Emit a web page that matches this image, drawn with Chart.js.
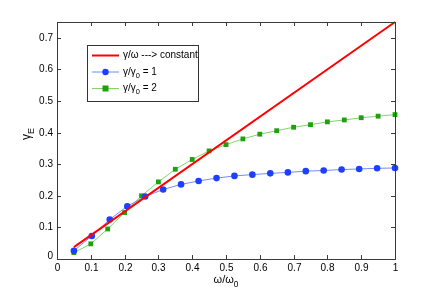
<!DOCTYPE html>
<html>
<head>
<meta charset="utf-8">
<script src="https://cdn.jsdelivr.net/npm/chart.js@4.4.0/dist/chart.umd.min.js"></script>
<style>
  html, body { margin: 0; padding: 0; background: #fff; }
  #wrap { width: 436px; height: 293px; }
</style>
</head>
<body>
<div id="wrap"><canvas id="gammaChart" width="436" height="293"></canvas></div>
<script>
// x positions (omega/omega0)
const xRed = [0.05, 1.0];
const yRed = [0.0375, 0.75];

const xBlue = [0.050, 0.103, 0.156, 0.208, 0.261, 0.314, 0.367, 0.419, 0.472, 0.525,
               0.578, 0.631, 0.683, 0.736, 0.789, 0.842, 0.894, 0.947, 1.000];
const yBlue = [0.026, 0.073, 0.125, 0.167, 0.198, 0.220, 0.236, 0.247, 0.256, 0.263,
               0.267, 0.271, 0.274, 0.278, 0.280, 0.283, 0.285, 0.287, 0.288];

const xGreen = [0.05, 0.10, 0.15, 0.20, 0.25, 0.30, 0.35, 0.40, 0.45, 0.50,
                0.55, 0.60, 0.65, 0.70, 0.75, 0.80, 0.85, 0.90, 0.95, 1.00];
const yGreen = [0.020, 0.048, 0.095, 0.147, 0.200, 0.244, 0.284, 0.315, 0.342, 0.362,
                0.380, 0.395, 0.406, 0.417, 0.425, 0.434, 0.440, 0.447, 0.452, 0.457];

const xTicks = [0, 0.1, 0.2, 0.3, 0.4, 0.5, 0.6, 0.7, 0.8, 0.9, 1];
const yTicks = [0, 0.1, 0.2, 0.3, 0.4, 0.5, 0.6, 0.7];

const FONT = "Liberation Sans, Arial, sans-serif";
const AXIS = "#3a3a3a";

function pts(xs, ys) {
    return xs.map((x, i) => ({ x: x, y: ys[i] }));
}

// draw text with a subscript part: parts = [[text, isSub], ...]
function drawRich(ctx, parts, x, y, size) {
    let cx = x;
    parts.forEach(p => {
        const s = p[1] ? size * 0.75 : size;
        ctx.font = s + "px " + FONT;
        ctx.fillText(p[0], cx, p[1] ? y + size * 0.35 : y);
        cx += ctx.measureText(p[0]).width;
    });
    return cx - x;
}
function richWidth(ctx, parts, size) {
    let w = 0;
    parts.forEach(p => {
        ctx.font = (p[1] ? size * 0.75 : size) + "px " + FONT;
        w += ctx.measureText(p[0]).width;
    });
    return w;
}

// MATLAB-like box, inward ticks, labels, titles and legend
const matlabAxes = {
    id: "matlabAxes",
    afterDraw(chart) {
        const ctx = chart.ctx;
        const a = chart.chartArea;
        const xs = chart.scales.x, ys = chart.scales.y;
        ctx.save();
        ctx.strokeStyle = AXIS;
        ctx.lineWidth = 1;
        ctx.strokeRect(Math.round(a.left) + 0.5, Math.round(a.top) + 0.5,
                       Math.round(a.right - a.left), Math.round(a.bottom - a.top));
        ctx.fillStyle = "#000";
        ctx.font = "10px " + FONT;
        // x ticks
        ctx.textAlign = "center";
        ctx.textBaseline = "top";
        xTicks.forEach(v => {
            const px = Math.round(xs.getPixelForValue(v)) + 0.5;
            ctx.beginPath();
            ctx.moveTo(px, a.bottom); ctx.lineTo(px, a.bottom - 4);
            ctx.moveTo(px, a.top); ctx.lineTo(px, a.top + 4);
            ctx.stroke();
            ctx.fillText(String(v), px, a.bottom + 4);
        });
        // y ticks
        ctx.textAlign = "right";
        ctx.textBaseline = "middle";
        yTicks.forEach(v => {
            const py = Math.round(ys.getPixelForValue(v)) + 0.5;
            ctx.beginPath();
            ctx.moveTo(a.left, py); ctx.lineTo(a.left + 4, py);
            ctx.moveTo(a.right, py); ctx.lineTo(a.right - 4, py);
            ctx.stroke();
            ctx.fillText(String(v), a.left - 4, v === 0 ? py - 3 : py);
        });

        // x title
        ctx.textAlign = "left";
        ctx.textBaseline = "alphabetic";
        const xt = [["ω/ω", false], ["0", true]];
        const xw = richWidth(ctx, xt, 11);
        drawRich(ctx, xt, (a.left + a.right) / 2 - xw / 2, 283, 11);

        // y title (rotated)
        ctx.save();
        ctx.translate(30, 134);
        ctx.rotate(-Math.PI / 2);
        const yt = [["γ", false], ["E", true]];
        const yw = richWidth(ctx, yt, 12);
        drawRich(ctx, yt, -yw / 2, 0, 12);
        ctx.restore();

        // legend
        const lx = 87, ly = 45, lw = 111, lh = 56;
        ctx.fillStyle = "#fff";
        ctx.fillRect(lx, ly, lw, lh);
        ctx.strokeStyle = "#333";
        ctx.strokeRect(lx + 0.5, ly + 0.5, lw, lh);
        const items = [
            { color: "#ff0000", width: 2, marker: null, text: [["γ/ω ---> constant", false]] },
            { color: "#6f8cff", width: 1, marker: "circle", mcolor: "#1f3fff", text: [["γ/γ", false], ["0", true], [" = 1", false]] },
            { color: "#7fd46a", width: 1, marker: "rect", mcolor: "#1fa00f", text: [["γ/γ", false], ["0", true], [" = 2", false]] }
        ];
        items.forEach((it, i) => {
            const yy = ly + 10.5 + i * 16.5;
            ctx.strokeStyle = it.color;
            ctx.lineWidth = it.width;
            ctx.beginPath();
            ctx.moveTo(lx + 5, yy); ctx.lineTo(lx + 32, yy);
            ctx.stroke();
            ctx.fillStyle = it.mcolor;
            if (it.marker === "circle") {
                ctx.beginPath(); ctx.arc(lx + 18.5, yy, 3.2, 0, Math.PI * 2); ctx.fill();
            } else if (it.marker === "rect") {
                ctx.fillRect(lx + 15.5, yy - 3, 6, 6);
            }
            ctx.fillStyle = "#000";
            ctx.textBaseline = "middle";
            drawRich(ctx, it.text, lx + 36, yy, 10);
        });
        ctx.restore();
    }
};

new Chart(document.getElementById("gammaChart"), {
    type: "line",
    data: {
        datasets: [
            {
                label: "γ/ω ---> constant",
                data: pts(xRed, yRed),
                borderColor: "#ff0000",
                borderWidth: 2,
                pointRadius: 0,
                fill: false,
                clip: false,
                tension: 0
            },
            {
                label: "γ/γ0 = 1",
                data: pts(xBlue, yBlue),
                borderColor: "#6f8cff",
                borderWidth: 1,
                pointStyle: "circle",
                pointRadius: 3.3,
                pointBackgroundColor: "#1f3fff",
                pointBorderColor: "#1f3fff",
                pointBorderWidth: 0,
                fill: false,
                clip: false,
                tension: 0
            },
            {
                label: "γ/γ0 = 2",
                data: pts(xGreen, yGreen),
                borderColor: "#7fd46a",
                borderWidth: 1,
                pointStyle: "rect",
                pointRadius: 3.4,
                pointBackgroundColor: "#1fa00f",
                pointBorderColor: "#1fa00f",
                pointBorderWidth: 0,
                fill: false,
                clip: false,
                tension: 0
            }
        ]
    },
    options: {
        responsive: false,
        animation: false,
        devicePixelRatio: 1,
        layout: { padding: { left: 0, top: 22, right: 41, bottom: 0 } },
        plugins: {
            legend: { display: false },
            tooltip: { enabled: false }
        },
        scales: {
            x: {
                type: "linear",
                min: 0,
                max: 1,
                ticks: { display: false },
                grid: { display: false },
                border: { display: false },
                afterFit: function(scale) { scale.height = 34; }
            },
            y: {
                type: "linear",
                min: 0,
                max: 0.75,
                ticks: { display: false },
                grid: { display: false },
                border: { display: false },
                afterFit: function(scale) { scale.width = 57; }
            }
        }
    },
    plugins: [matlabAxes]
});
</script>
</body>
</html>
